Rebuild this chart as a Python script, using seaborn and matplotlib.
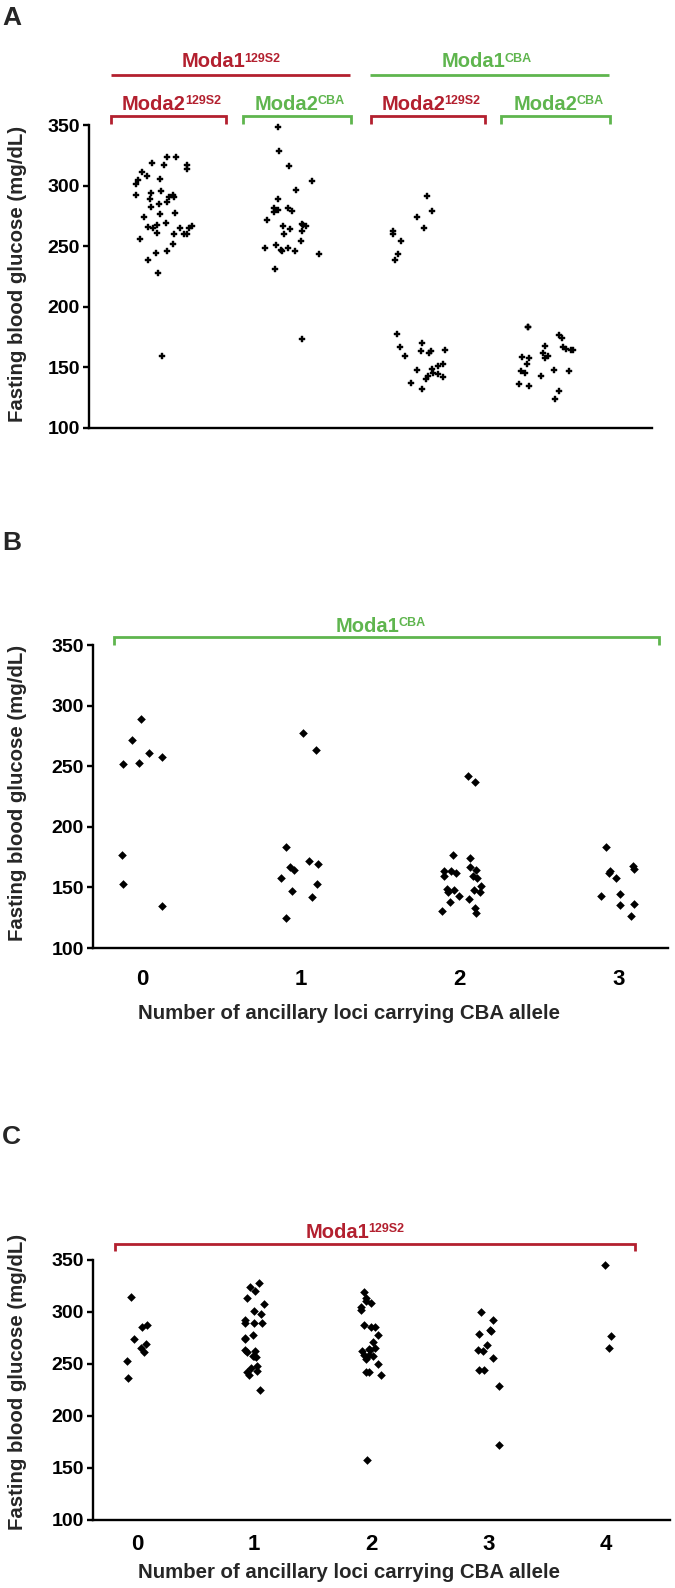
import numpy as np
import pandas as pd
import matplotlib
matplotlib.use("Agg")
import matplotlib.pyplot as plt
import seaborn as sns
from matplotlib.lines import Line2D

# ---------------- data ----------------
a_groups = ["Moda1-129S2 / Moda2-129S2", "Moda1-129S2 / Moda2-CBA",
            "Moda1-CBA / Moda2-129S2", "Moda1-CBA / Moda2-CBA"]
a_g1 = [323.3, 323.6, 318.4, 317.0, 317.0, 313.4, 311.5, 308.2, 304.6, 305.5,
        301.1, 295.3, 292.0, 293.6, 290.3, 290.9, 292.0, 286.5, 288.7, 284.5,
        282.4, 277.4, 276.9, 274.1, 269.2, 265.3, 264.8, 265.6, 267.5, 265.0,
        266.7, 259.8, 260.1, 259.8, 260.9, 255.7, 251.6, 246.1, 244.4, 238.9,
        227.6, 159.4]
a_g2 = [348.6, 328.3, 315.9, 303.5, 296.1, 288.7, 280.2, 281.3, 281.5, 278.0,
        278.8, 271.6, 264.2, 266.4, 267.5, 267.0, 268.3, 262.5, 259.7, 253.9,
        246.2, 246.0, 247.0, 248.4, 248.4, 250.9, 243.7, 231.2, 173.7]
a_g3 = [291.4, 279.1, 273.8, 265.3, 262.6, 259.8, 254.3, 243.3, 238.4,
        177.3, 169.9, 166.6, 164.1, 162.2, 163.8, 163.8, 159.4, 153.1, 151.2,
        149.0, 147.6, 144.9, 145.7, 143.2, 141.8, 140.2, 137.4, 132.2]
a_g4 = [183.4, 183.6, 176.8, 174.3, 164.1, 165.2, 159.4, 158.3, 158.1, 164.7,
        167.1, 168.0, 161.6, 157.8, 152.8, 147.3, 147.1, 148.2, 145.1, 142.7,
        136.1, 134.4, 130.3, 124.2]

b_loci = ["0", "1", "2", "3"]
b_0 = [289.3, 271.7, 260.7, 258.0, 252.5, 251.9, 176.9, 152.7, 134.3]
b_1 = [277.2, 263.4, 183.0, 166.8, 172.0, 169.5, 164.0, 158.0, 152.7, 147.2,
       141.8, 124.4]
b_2 = [241.7, 237.1, 174.2, 176.6, 166.5, 163.7, 163.7, 161.8, 164.0, 159.1,
       157.7, 159.1, 150.8, 147.5, 148.6, 145.9, 148.1, 145.9, 140.1, 142.9,
       137.6, 133.0, 128.8, 130.5]
b_3 = [183.0, 167.9, 165.1, 163.7, 161.8, 157.7, 144.5, 142.9, 136.3, 135.2,
       126.1]

c_loci = ["0", "1", "2", "3", "4"]
c_0 = [314.8, 287.8, 285.2, 273.9, 269.4, 265.2, 261.6, 252.6, 236.5]
c_1 = [328.1, 324.5, 320.0, 313.6, 308.1, 301.3, 297.8, 292.0, 289.7, 289.1,
       289.1, 277.8, 274.5, 275.2, 262.9, 263.6, 262.0, 257.4, 257.4, 256.8,
       248.4, 246.1, 243.2, 241.9, 239.0, 224.8]
c_2 = [319.7, 313.9, 310.7, 309.0, 304.9, 301.9, 285.5, 287.1, 285.2, 278.1,
       271.0, 265.2, 264.2, 262.3, 263.9, 259.0, 258.1, 259.0, 255.2, 250.0,
       242.3, 242.3, 239.4, 157.7]
c_3 = [300.0, 292.6, 282.9, 281.3, 279.0, 268.4, 263.9, 262.9, 255.5, 244.5,
       244.5, 228.7, 171.9]
c_4 = [344.9, 276.5, 265.2]

y_ticks = [100, 150, 200, 250, 300, 350]
y_label = "Fasting blood glucose (mg/dL)"
x_label = "Number of ancillary loci carrying CBA allele"

RED = "#B3202F"
GREEN = "#5FB54E"


def long_df(cats, groups, col):
    rows = []
    for c, g in zip(cats, groups):
        rows += [(c, v) for v in g]
    return pd.DataFrame(rows, columns=[col, "glucose"])


dfA = long_df(a_groups, [a_g1, a_g2, a_g3, a_g4], "genotype")
dfB = long_df(b_loci, [b_0, b_1, b_2, b_3], "loci")
dfC = long_df(c_loci, [c_0, c_1, c_2, c_3, c_4], "loci")

# ---------------- style ----------------
sns.set_style("ticks")
FONT = ["Liberation Sans", "DejaVu Sans"]
plt.rcParams["font.family"] = FONT
plt.rcParams["font.weight"] = "bold"

W, H = 675, 1588
fig = plt.figure(figsize=(W / 100, H / 100), dpi=100)


def rect(l, r, t, b):
    return [l / W, 1 - b / H, (r - l) / W, (b - t) / H]


def fy(p):
    return 1 - p / H


np.random.seed(3)

# ---------------- panel A ----------------
axA = fig.add_axes(rect(89, 652, 125, 428))
sns.stripplot(data=dfA, x="genotype", y="glucose", order=a_groups, ax=axA,
              color="black", marker="P", size=4.6, linewidth=0.3,
              edgecolor="black", jitter=0.23, clip_on=False)
axA.set_xlim(-0.588, 3.835)
axA.set_ylim(100, 350)

# ---------------- panel B ----------------
axB = fig.add_axes(rect(93, 668, 645, 948))
sns.stripplot(data=dfB, x="loci", y="glucose", order=b_loci, ax=axB,
              color="black", marker="D", size=4.4, linewidth=0, jitter=0.14,
              clip_on=False)
axB.set_xlim(-0.308, 3.311)
axB.set_ylim(100, 350)

# ---------------- panel C ----------------
axC = fig.add_axes(rect(93, 670, 1260, 1520))
sns.stripplot(data=dfC, x="loci", y="glucose", order=c_loci, ax=axC,
              color="black", marker="D", size=4.4, linewidth=0, jitter=0.09,
              clip_on=False)
axC.set_xlim(-0.375, 4.548)
axC.set_ylim(100, 350)

for ax in (axA, axB, axC):
    sns.despine(ax=ax)
    for s in ("left", "bottom"):
        ax.spines[s].set_linewidth(1.7)
        ax.spines[s].set_color("black")
    ax.set_yticks(y_ticks)
    ax.tick_params(axis="y", length=4.5, width=1.7, pad=2, colors="black",
                   labelsize=14)
    ax.tick_params(axis="x", length=0, colors="black", labelsize=16)
    ax.set_ylabel("")
    ax.set_xlabel("")
    for lab in ax.get_yticklabels() + ax.get_xticklabels():
        lab.set_fontweight("bold")

axA.set_xticklabels([])
axB.tick_params(axis="x", pad=15)
axC.tick_params(axis="x", pad=10)

# y labels
for yc in (274, 793, 1382):
    fig.text(17.5 / W, fy(yc), y_label, rotation=90, ha="center",
             va="center", fontsize=14.7, fontweight="bold")

# x labels
fig.text(349.5 / W, fy(1013), x_label, ha="center", va="center",
         fontsize=14.7, fontweight="bold")
fig.text(349.5 / W, fy(1573), x_label, ha="center", va="center",
         fontsize=14.7, fontweight="bold")

# panel letters
for letter, y in (("A", 18), ("B", 543), ("C", 1137)):
    fig.text(2 / W, fy(y), letter, ha="left", va="center", fontsize=19,
             fontweight="bold")

renderer = fig.canvas.get_renderer()


def sup_label(cx, baseline, base, sup, color, bsize=14.5, ssize=9):
    tb = fig.text(0, 0, base, fontsize=bsize, fontweight="bold", color=color,
                  ha="left", va="baseline")
    ts = fig.text(0, 0, sup, fontsize=ssize, fontweight="bold", color=color,
                  ha="left", va="baseline")
    wb = tb.get_window_extent(renderer).width
    ws = ts.get_window_extent(renderer).width
    gap = -1
    x0 = cx - (wb + ws + gap) / 2
    tb.set_position((x0 / W, fy(baseline)))
    ts.set_position(((x0 + wb + gap) / W, fy(baseline - 5.5)))


def seg(xs, ys, color):
    fig.add_artist(Line2D([x / W for x in xs], [fy(y) for y in ys],
                          color=color, lw=2.0, solid_joinstyle="miter",
                          solid_capstyle="butt"))


# panel A headers
seg([111, 350], [75, 75], RED)
seg([370, 609], [75, 75], GREEN)
sup_label(231, 67, "Moda1", "129S2", RED)
sup_label(487, 67, "Moda1", "CBA", GREEN)
a_brackets = [(111, 226), (243, 351), (371, 485), (501, 610)]
a_cols = [RED, GREEN, RED, GREEN]
a_sups = ["129S2", "CBA", "129S2", "CBA"]
for (l, r), col, sup in zip(a_brackets, a_cols, a_sups):
    seg([l, l, r, r], [124, 116, 116, 124], col)
    sup_label((l + r) / 2 + 3, 110, "Moda2", sup, col)

# panel B header
seg([114, 114, 659, 659], [645, 637, 637, 645], GREEN)
sup_label(381, 632, "Moda1", "CBA", GREEN)

# panel C header
seg([115, 115, 635, 635], [1251, 1244, 1244, 1251], RED)
sup_label(355, 1238, "Moda1", "129S2", RED)

fig.savefig("out.png", dpi=100)
